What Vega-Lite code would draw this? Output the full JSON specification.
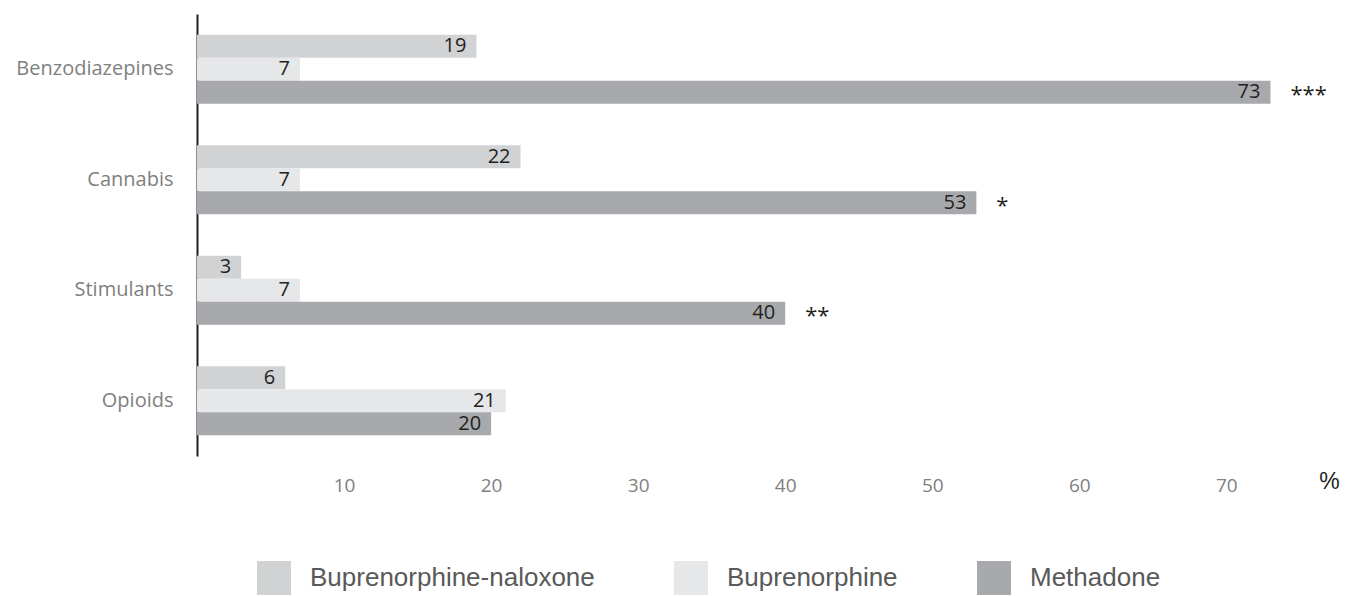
{
  "$schema": "https://vega.github.io/schema/vega-lite/v6.json",
  "width": 1147,
  "height": 442,
  "autosize": {"type": "none"},
  "padding": {"left": 197, "top": 14, "right": 10, "bottom": 140},
  "background": "white",
  "config": {"view": {"stroke": null}},
  "data": {
    "values": [
      {"drug": "Benzodiazepines", "treatment": "Buprenorphine-naloxone", "pct": 19, "sig": ""},
      {"drug": "Benzodiazepines", "treatment": "Buprenorphine", "pct": 7, "sig": ""},
      {"drug": "Benzodiazepines", "treatment": "Methadone", "pct": 73, "sig": "***"},
      {"drug": "Cannabis", "treatment": "Buprenorphine-naloxone", "pct": 22, "sig": ""},
      {"drug": "Cannabis", "treatment": "Buprenorphine", "pct": 7, "sig": ""},
      {"drug": "Cannabis", "treatment": "Methadone", "pct": 53, "sig": "*"},
      {"drug": "Stimulants", "treatment": "Buprenorphine-naloxone", "pct": 3, "sig": ""},
      {"drug": "Stimulants", "treatment": "Buprenorphine", "pct": 7, "sig": ""},
      {"drug": "Stimulants", "treatment": "Methadone", "pct": 40, "sig": "**"},
      {"drug": "Opioids", "treatment": "Buprenorphine-naloxone", "pct": 6, "sig": ""},
      {"drug": "Opioids", "treatment": "Buprenorphine", "pct": 21, "sig": ""},
      {"drug": "Opioids", "treatment": "Methadone", "pct": 20, "sig": ""}
    ]
  },
  "encoding": {
    "y": {
      "field": "drug", "type": "nominal",
      "sort": ["Benzodiazepines", "Cannabis", "Stimulants", "Opioids"],
      "scale": {"paddingInner": 0.375, "paddingOuter": 0.1875},
      "axis": {
        "title": null, "ticks": false, "domainColor": "#231f20", "domainWidth": 2,
        "labelColor": "#7f7f7f", "labelFont": "Open Sans", "labelFontSize": 20,
        "labelPadding": 24
      }
    },
    "yOffset": {
      "field": "treatment", "type": "nominal",
      "sort": ["Buprenorphine-naloxone", "Buprenorphine", "Methadone"],
      "scale": {"paddingInner": 0, "paddingOuter": 0}
    },
    "x": {
      "field": "pct", "type": "quantitative",
      "scale": {"domain": [0, 78], "nice": false},
      "axis": {
        "title": "%", "values": [10, 20, 30, 40, 50, 60, 70], "domain": false, "ticks": false, "grid": false,
        "labelColor": "#808080", "labelFont": "Open Sans", "labelFontSize": 19, "labelPadding": 20,
        "titleColor": "#231f20", "titleFont": "Liberation Sans", "titleFontSize": 23, "titleFontWeight": "normal",
        "titleX": 1132, "titleY": 25, "titleBaseline": "middle", "titleAlign": "center", "titleAnchor": "start"
      }
    }
  },
  "layer": [
    {
      "mark": {"type": "bar"},
      "encoding": {
        "color": {
          "field": "treatment", "type": "nominal",
          "sort": ["Buprenorphine-naloxone", "Buprenorphine", "Methadone"],
          "scale": {"domain": ["Buprenorphine-naloxone", "Buprenorphine", "Methadone"], "range": ["#d1d2d4", "#e6e7e8", "#a7a9ac"]},
          "legend": {
            "title": null, "orient": "none", "direction": "horizontal", "legendX": 60, "legendY": 547,
            "symbolType": "square", "symbolSize": 1156, "symbolStrokeWidth": 0, "symbolOpacity": 1,
            "labelFont": "Liberation Sans", "labelFontSize": 26, "labelColor": "#595959", "labelOffset": 19,
            "columnPadding": 79, "labelLimit": 500
          }
        }
      }
    },
    {
      "mark": {"type": "text", "align": "right", "baseline": "middle", "dx": -10, "font": "Open Sans", "fontSize": 20, "color": "#231f20"},
      "encoding": {"text": {"field": "pct", "type": "quantitative"}}
    },
    {
      "transform": [{"filter": "datum.sig != ''"}],
      "mark": {"type": "text", "align": "left", "baseline": "middle", "dx": 20, "dy": 3, "font": "Open Sans", "fontSize": 22, "color": "#231f20"},
      "encoding": {"text": {"field": "sig", "type": "nominal"}}
    }
  ]
}
